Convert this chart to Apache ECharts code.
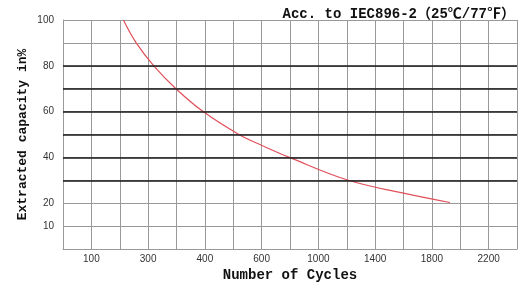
<!DOCTYPE html>
<html>
<head>
<meta charset="utf-8">
<script src="https://cdn.jsdelivr.net/npm/echarts@6/dist/echarts.min.js"></script>
<style>
  html, body { margin: 0; padding: 0; background: #fff; }
  #chart { width: 518px; height: 283px; }
</style>
</head>
<body>
<div id="chart"></div>
<script>
// x axis is not linear: each label sits on every second grid line
var xTickLabels = [100, 300, 400, 600, 1000, 1400, 1800, 2200];
var yTickLabels = [10, 20, 40, 60, 80, 100];
// heavier grid lines
var darkLines = [30, 40, 50, 60, 70, 80];
// curve
var cycles = [213, 258, 310, 349, 397, 520, 610, 796, 1212, 1600, 1928];
var capacity = [100, 90, 80, 70, 60, 50, 45, 40, 30, 24.4, 20.3];

// cycles -> grid position (label i sits on line 2*i+1)
function toPos(c) {
  for (var i = 0; i < xTickLabels.length - 1; i++) {
    var a = xTickLabels[i], b = xTickLabels[i + 1];
    if (c <= b || i === xTickLabels.length - 2) {
      return 2 * i + 1 + 2 * (c - a) / (b - a);
    }
  }
}

var chart = echarts.init(document.getElementById('chart'), null, { renderer: 'canvas' });
chart.setOption({
  animation: false,
  title: {
    text: 'Acc. to IEC896-2（25℃/77℉）',
    right: -2,
    top: 2,
    textStyle: { fontFamily: 'Liberation Mono, Noto Sans CJK SC', fontSize: 14, fontWeight: 'bold', color: '#111' }
  },
  grid: { left: 63, right: 1, top: 20, bottom: 34, outerBoundsMode: 'none' },
  xAxis: {
    type: 'value',
    min: 0,
    max: 16,
    interval: 1,
    name: 'Number of Cycles',
    nameLocation: 'middle',
    nameGap: 19,
    nameTextStyle: { fontFamily: 'Liberation Mono', fontSize: 14, fontWeight: 'bold', color: '#111' },
    axisLine: { lineStyle: { color: '#999' } },
    axisTick: { show: false },
    axisLabel: {
      margin: 5,
      fontFamily: 'Liberation Sans Narrow, Liberation Sans',
      fontSize: 10,
      color: '#333',
      formatter: function (v) {
        return v % 2 === 1 ? String(xTickLabels[(v - 1) / 2]) : '';
      }
    },
    splitLine: { show: true, lineStyle: { color: '#999' } }
  },
  yAxis: {
    type: 'value',
    min: 0,
    max: 100,
    interval: 10,
    name: 'Extracted capacity in%',
    nameLocation: 'middle',
    nameGap: 34,
    nameMoveOverlap: false,
    nameTextStyle: { fontFamily: 'Liberation Mono', fontSize: 13, fontWeight: 'bold', color: '#111' },
    axisLine: { show: true, lineStyle: { color: '#999' } },
    axisTick: { show: false },
    axisLabel: {
      margin: 9,
      fontFamily: 'Liberation Sans Narrow, Liberation Sans',
      fontSize: 10,
      color: '#333',
      formatter: function (v) {
        return yTickLabels.indexOf(v) >= 0 ? String(v) : '';
      }
    },
    splitLine: { show: true, lineStyle: { color: '#999' } }
  },
  series: [{
    type: 'line',
    smooth: 0.4,
    symbol: 'none',
    data: cycles.map(function (c, i) { return [toPos(c), capacity[i]]; }),
    lineStyle: { color: '#e0505a', width: 1.2 },
    markLine: {
      silent: true,
      symbol: 'none',
      label: { show: false },
      lineStyle: { color: '#1a1a1a', width: 1.5, type: 'solid' },
      data: darkLines.map(function (v) { return { yAxis: v }; })
    }
  }]
});
</script>
</body>
</html>
